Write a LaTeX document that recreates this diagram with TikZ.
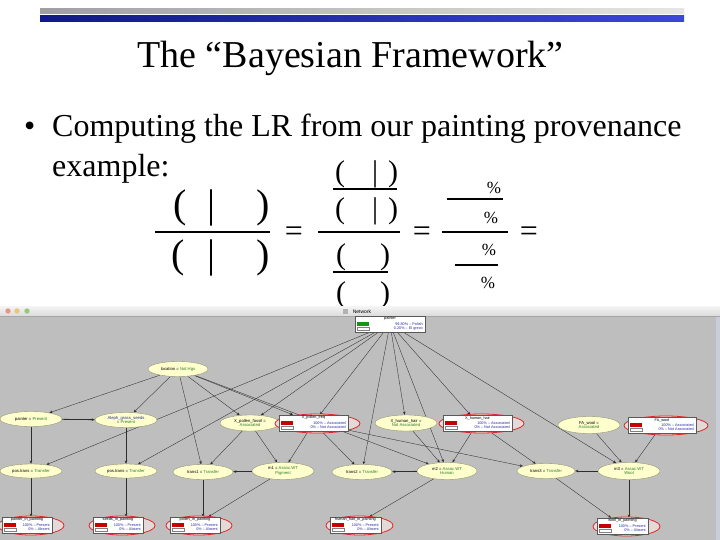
\documentclass[tikz,border=0pt]{standalone}
\usepackage{fontspec}
\setmainfont{Liberation Serif}
\newfontfamily\uisans{Liberation Sans}
\usetikzlibrary{shapes.geometric,arrows.meta,calc}
\definecolor{bgc}{RGB}{190,190,190}
\definecolor{ellfill}{RGB}{255,255,206}
\definecolor{ellline}{RGB}{150,150,120}
\definecolor{uigreen}{RGB}{40,125,40}
\definecolor{uiblue}{RGB}{40,40,170}
\definecolor{barred}{RGB}{200,0,0}
\definecolor{bargreen}{RGB}{20,150,20}
\definecolor{redline}{RGB}{225,40,40}
\definecolor{redfill}{RGB}{228,218,218}
\definecolor{edgec}{RGB}{45,45,45}
\definecolor{darkbar}{RGB}{15,25,135}
\definecolor{lightbar}{RGB}{60,70,215}
\definecolor{winedge}{RGB}{200,205,215}
\definecolor{lightred}{RGB}{230,150,130}
\definecolor{lightyel}{RGB}{230,200,120}
\definecolor{lightgrn}{RGB}{150,200,130}
\pgfdeclarelayer{bottom}
\pgfdeclarelayer{background}
\pgfsetlayers{bottom,background,main}
\tikzset{
  bn/.style={ellipse, draw=ellline, fill=ellfill, line width=0.4pt, inner sep=0pt,
    minimum width=62, minimum height=15, align=center,
    font=\uisans\fontsize{4.2}{4.6}\selectfont},
  monbox/.style={rectangle, draw=gray!70!black, fill=white, line width=0.4pt,
    minimum height=16, inner sep=0pt},
  redback/.style={ellipse, draw=redline, fill=redfill, line width=0.8pt, inner sep=0pt,
    minimum height=19},
  montxt/.style={inner sep=0pt, font=\uisans\fontsize{3.8}{4}\selectfont},
  edge/.style={draw=edgec, line width=0.35pt, -{Stealth[length=3.2pt,width=2.6pt]}},
  thick edge/.style={edge, line width=0.8pt},
  bigp/.style={inner sep=0pt, font=\fontsize{40}{40}\selectfont},
  midp/.style={inner sep=0pt, font=\fontsize{30}{30}\selectfont},
  pct/.style={inner sep=0pt, font=\fontsize{17}{17}\selectfont},
  eqs/.style={inner sep=0pt, font=\fontsize{32}{32}\selectfont},
  fracline/.style={line width=2.6pt}
}
% #1 name, #2 x, #3 y, #4 width, #5 title, #6 line1, #7 line2, #8 bar colour
\newcommand\monitor[8]{%
  \node[monbox, minimum width=#4] (#1) at (#2,#3) {};
  \node[montxt, text=black] (#1t) at ({#2},{#3-5}) {#5};
  \fill[#8] ({#2-#4/2+2},{#3-1.8}) rectangle ++(12,3.6);
  \draw[gray, line width=0.3pt, fill=white] ({#2-#4/2+2},{#3+2.8}) rectangle ++(12,3.6);
  \node[montxt, text=uiblue, anchor=east] (#1a) at ({#2+#4/2-2},{#3}) {#6};
  \node[montxt, text=uiblue, anchor=east] (#1b) at ({#2+#4/2-2},{#3+4.6}) {#7};
}
% red ellipse behind a monitor box: #1 name, #2 x, #3 y, #4 width
\newcommand\redbehind[4]{%
  \node[redback, minimum width={#4+16}] (#1e) at ({#2+4},{#3+0.5}) {};
}
\begin{document}
\begin{tikzpicture}[x=1pt,y=-1pt]
\useasboundingbox (0,0) rectangle (720,540);
\begin{pgfonlayer}{bottom}
\fill[white] (0,0) rectangle (720,540);
% screenshot window background
\fill[bgc] (0,316) rectangle (716,540);
\shade[top color=gray!8, bottom color=gray!28] (0,306) rectangle (720,316);
\draw[gray!70, line width=0.4pt] (0,316) -- (720,316);
\fill[winedge] (716,316) rectangle (720,540);
\end{pgfonlayer}

% top bars
\shade[left color=gray!75, middle color=gray!30, right color=gray!20] (40,9) rectangle (684,14);
\shade[left color=darkbar, right color=lightbar] (40,16) rectangle (684,22);

% title and bullet
\node[anchor=base, inner sep=0pt, font=\fontsize{38}{40}\selectfont] (title) at (350.5,68) {The “Bayesian Framework”};
\node[anchor=base west, inner sep=0pt, font=\fontsize{32}{34}\selectfont] (bul) at (24,137) {•};
\node[anchor=base west, inner sep=0pt, font=\fontsize{32}{34}\selectfont] (line1) at (52,137) {Computing the LR from our painting provenance};
\node[anchor=base west, inner sep=0pt, font=\fontsize{32}{34}\selectfont] (line2) at (52,177) {example:};

% left fraction
\node[bigp] (la1) at (180,208) {(};
\node[bigp] (la2) at (212,208) {|};
\node[bigp] (la3) at (263,208) {)};
\node[bigp] (lb1) at (178,258) {(};
\node[bigp] (lb2) at (212,258) {|};
\node[bigp] (lb3) at (263,258) {)};
\draw[fracline] (155,232) -- (270,232);
\node[eqs] (eq1) at (294,234) {=};

% middle fraction
\node[midp] (ma1) at (340,174) {(};
\node[midp] (ma2) at (375,174) {|};
\node[midp] (ma3) at (393,174) {)};
\draw[fracline] (333,189) -- (397,189);
\node[midp] (mb1) at (340,211) {(};
\node[midp] (mb2) at (375,211) {|};
\node[midp] (mb3) at (393,211) {)};
\draw[fracline] (318,232) -- (400,232);
\node[midp] (mc1) at (341,257) {(};
\node[midp] (mc3) at (385,257) {)};
\draw[fracline] (333,272) -- (388,272);
\node[midp] (md1) at (341,295) {(};
\node[midp] (md3) at (385,295) {)};
\node[eqs] (eq2) at (422,234) {=};

% right fraction
\node[pct] (p1) at (494,188) {\%};
\draw[fracline] (447,199) -- (503,199);
\node[pct] (p2) at (491,218) {\%};
\draw[fracline] (442,232) -- (508,232);
\node[pct] (p3) at (489,250) {\%};
\draw[fracline] (455,265) -- (498,265);
\node[pct] (p4) at (488,283) {\%};
\node[eqs] (eq3) at (529,234) {=};

% window title bar (overlaps the last parentheses)
\shade[top color=gray!8, bottom color=gray!28] (0,306) rectangle (720,316);
\draw[gray!70, line width=0.4pt] (0,316) -- (720,316);
\fill[lightred] (8,311) circle (2.7);
\fill[lightyel] (17,311) circle (2.7);
\fill[lightgrn] (27,311) circle (2.7);
\fill[gray!60] (343,309) rectangle (348,313.5);
\node[inner sep=0pt, font=\uisans\fontsize{5}{6}\selectfont] (wtitle) at (362,311.5) {Network};

% top monitor
\monitor{painter}{390}{324}{70}{painter}{99.80\% – Polish}{0.20\% – El greco}{bargreen}

% ellipses
\node[bn, minimum width=60] (loc) at (178,369) {location = {\color{uigreen}Not Hgs}};
\node[bn] (pres) at (31,419) {painter = {\color{uigreen}Present}};
\node[bn] (aleph) at (126,420) {{\color{uiblue}Aleph\_grass\_seeds}\\{\color{uiblue}=} {\color{uigreen}Present}};
\node[bn, minimum width=60, minimum height=16] (pol) at (250,423) {X\_pollen\_fossil =\\{\color{uigreen}Associated}};
\node[bn, minimum height=16] (hh) at (406,423) {X\_human\_hair =\\{\color{uigreen}Not Associated}};
\node[bn, minimum height=17] (wool) at (589,425) {FA\_wool =\\{\color{uigreen}Associated}};

\redbehind{polb}{313.5}{423}{69}
\monitor{polb}{313.5}{423}{69}{X\_pollen\_freq}{100\% – Associated}{0\% – Not Associated}{barred}
\redbehind{hhb}{477.5}{423}{69}
\monitor{hhb}{477.5}{423}{69}{X\_human\_hair}{100\% – Associated}{0\% – Not Associated}{barred}
\redbehind{woolb}{662}{425}{68}
\monitor{woolb}{662}{425}{68}{FA\_wool}{100\% – Associated}{0\% – Not Associated}{barred}

\node[bn, minimum height=14] (pt1) at (31,471) {pos.trans = {\color{uigreen}Transfer}};
\node[bn, minimum height=14] (pt2) at (126,471) {pos.trans = {\color{uigreen}Transfer}};
\node[bn, minimum width=60] (t1) at (203,472) {trans1 = {\color{uigreen}Transfer}};
\node[bn, minimum height=17] (m1) at (283,471) {m1 = {\color{uigreen}Assoc.WT}\\{\color{uigreen}Pigment}};
\node[bn, minimum width=60] (t2) at (362,472) {trans2 = {\color{uigreen}Transfer}};
\node[bn, minimum width=60, minimum height=17] (m2) at (447,471) {m2 = {\color{uigreen}Assoc.WT}\\{\color{uigreen}Human}};
\node[bn, minimum width=58] (t3) at (546,471) {trans3 = {\color{uigreen}Transfer}};
\node[bn, minimum height=17] (m3) at (629,471) {m3 = {\color{uigreen}Assoc.WT}\\{\color{uigreen}Wool}};

\redbehind{b1}{27}{525}{50}
\monitor{b1}{27}{525}{50}{painter\_in\_painting}{100\% – Present}{0\% – Absent}{barred}
\redbehind{b2}{118}{525}{50}
\monitor{b2}{118}{525}{50}{seeds\_in\_painting}{100\% – Present}{0\% – Absent}{barred}
\redbehind{b3}{195}{525}{50}
\monitor{b3}{195}{525}{50}{pollen\_in\_painting}{100\% – Present}{0\% – Absent}{barred}
\redbehind{b4}{355.5}{525}{51}
\monitor{b4}{355.5}{525}{51}{human\_hair\_in\_painting}{100\% – Present}{0\% – Absent}{barred}
\redbehind{b5}{622.5}{526}{51}
\monitor{b5}{622.5}{526}{51}{wool\_in\_painting}{100\% – Present}{0\% – Absent}{barred}

% connectors
\begin{pgfonlayer}{background}
\draw[edge] (loc) -- (pres);
\draw[edge] (loc) -- (aleph);
\draw[edge] (loc) -- (t1);
\draw[edge] (loc) -- (pol);
\draw[edge] (loc) -- (polb);
\draw[edge] (loc) -- (m2);
\draw[edge] (painter) -- (pt1);
\draw[edge] (painter) -- (pt2);
\draw[edge] (painter) -- (pol);
\draw[edge] (painter) -- (polb);
\draw[edge] (painter) -- (t2);
\draw[edge] (painter) -- (m2);
\draw[edge] (painter) -- (hh);
\draw[edge] (painter) -- (hhb);
\draw[edge] (painter) -- (m3);
\draw[thick edge] (pres) -- (pt1);
\draw[thick edge] (pres) -- (aleph);
\draw[thick edge] (aleph) -- (pt2);
\draw[edge] (pol) -- (t1);
\draw[edge] (pol) -- (m1);
\draw[edge] (polb) -- (m1);
\draw[edge] (polb) -- (t2);
\draw[edge] (polb) -- (t3);
\draw[edge] (hh) -- (m2);
\draw[edge] (hhb) -- (m2);
\draw[edge] (hhb) -- (t3);
\draw[edge] (wool) -- (m3);
\draw[edge] (woolb) -- (m3);
\draw[thick edge] (m1) -- (t1);
\draw[thick edge] (m2) -- (t2);
\draw[thick edge] (m3) -- (t3);
\draw[thick edge] (pt1) -- (pt1 |- b1.north);
\draw[thick edge] (pt2) -- (pt2 |- b2.north);
\draw[edge] (t1) -- (t1 |- b3.north);
\draw[edge] (m1) -- (b3);
\draw[edge] (m2) -- (b4);
\draw[edge] (t3) -- (b5);
\draw[thick edge] (m3) -- (m3 |- b5.north);
\end{pgfonlayer}
\end{tikzpicture}
\end{document}
